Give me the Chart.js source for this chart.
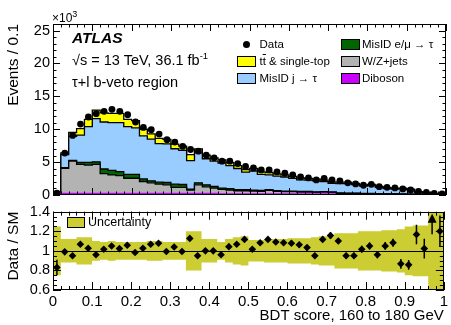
<!DOCTYPE html>
<html>
<head>
<meta charset="utf-8">
<script src="https://cdn.jsdelivr.net/npm/chart.js@4.4.1/dist/chart.umd.min.js"></script>
<style>
  html, body { margin: 0; padding: 0; background: #fff; }
  #wrap { position: relative; width: 451px; height: 325px; overflow: hidden; font-family: "Liberation Sans", Arial, sans-serif; color: #000; }
  canvas { position: absolute; left: 0; }
  #mainCanvas { top: 0; }
  #ratioCanvas { top: 200px; }
  .txt { position: absolute; white-space: nowrap; line-height: 1; }
  .box { position: absolute; border: 1px solid #000; box-sizing: border-box; }
  .sup { position: relative; }
</style>
</head>
<body>
<div id="wrap">
  <canvas id="mainCanvas" width="451" height="210" style="width:451px;height:210px"></canvas>
  <canvas id="ratioCanvas" width="451" height="125" style="width:451px;height:125px"></canvas>

  <div class="txt" style="left:52px;top:11.5px;font-size:12px">×10<span class="sup" style="font-size:9px;top:-5px">3</span></div>
  <div class="txt" style="left:72px;top:30px;font-size:15.5px;font-weight:bold;font-style:italic">ATLAS</div>
  <div class="txt" style="left:72px;top:52.7px;font-size:14.5px">√s = 13 TeV, 36.1 fb<span class="sup" style="font-size:9.5px;top:-6px">-1</span></div>
  <div class="txt" style="left:72px;top:75px;font-size:14.5px">τ+l b-veto region</div>

  <div style="position:absolute;left:243px;top:40.5px;width:7px;height:7px;border-radius:50%;background:#000"></div>
  <div class="txt" style="left:259.5px;top:38.6px;font-size:11.5px">Data</div>
  <div class="box" style="left:237px;top:56px;width:19px;height:11px;background:#ffff00"></div>
  <div class="txt" style="left:259.5px;top:55.8px;font-size:11.5px">t<span style="text-decoration:overline">t</span> &amp; single-top</div>
  <div class="box" style="left:237px;top:73px;width:19px;height:11px;background:#99ccff"></div>
  <div class="txt" style="left:259.5px;top:72.8px;font-size:11.5px">MisID j → τ</div>

  <div class="box" style="left:341px;top:39px;width:19px;height:11px;background:#006600"></div>
  <div class="txt" style="left:362px;top:38.6px;font-size:11.5px">MisID e/μ → τ</div>
  <div class="box" style="left:341px;top:56px;width:19px;height:11px;background:#b3b3b3"></div>
  <div class="txt" style="left:362px;top:55.8px;font-size:11.5px">W/Z+jets</div>
  <div class="box" style="left:341px;top:73px;width:19px;height:11px;background:#cc00ff"></div>
  <div class="txt" style="left:362px;top:72.8px;font-size:11.5px">Diboson</div>

  <div class="box" style="left:67px;top:217px;width:18px;height:11px;background:#cccc33"></div>
  <div class="txt" style="left:88px;top:216px;font-size:12.5px">Uncertainty</div>
</div>

<script>
// 50 bins of width 0.02 in BDT score
const nBins = 50;
const binLow = Array.from({ length: nBins }, (_, i) => +(i * 0.02).toFixed(2));
const binCenter = binLow.map(v => +(v + 0.01).toFixed(2));

// events in units of 10^3
const dataEvents = [0.3, 6.37, 9.06, 10.79, 11.86, 12.37, 12.72, 13.03, 12.72, 12.2,
  11.1, 10.28, 9.92, 9.26, 8.4, 8.04, 7.38, 6.92, 6.67, 6.06,
  5.65, 5.14, 5.14, 4.78, 4.33, 4.12, 3.82, 3.82, 3.51, 3.31,
  3.05, 2.75, 2.6, 2.29, 2.54, 2.29, 2.16, 1.85, 1.68, 1.48,
  1.63, 1.27, 1.17, 1.07, 0.92, 0.76, 0.56, 0.41, 0.26, 0.15];

const diboson = [0.03, 0.25, 0.25, 0.25, 0.25, 0.25, 0.25, 0.25, 0.25, 0.25,
  0.25, 0.25, 0.25, 0.25, 0.25, 0.25, 0.25, 0.25, 0.25, 0.25,
  0.25, 0.15, 0.15, 0.15, 0.15, 0.15, 0.15, 0.15, 0.15, 0.15,
  0.15, 0.15, 0.15, 0.15, 0.15, 0.15, 0.05, 0.05, 0.05, 0.05,
  0.05, 0.05, 0.05, 0.05, 0.05, 0.05, 0.05, 0.05, 0.05, 0.05];

const wzJets = [0.15, 3.8, 4.9, 4.4, 4.3, 4.4, 3.0, 2.8, 2.7, 2.3,
  2.3, 1.8, 1.6, 1.4, 1.3, 0.9, 0.9, 0.5, 1.3, 1.0,
  0.8, 0.7, 0.6, 0.5, 0.5, 0.45, 0.4, 0.55, 0.4, 0.35,
  0.35, 0.3, 0.3, 0.25, 0.3, 0.25, 0.2, 0.2, 0.18, 0.15,
  0.15, 0.12, 0.1, 0.1, 0.08, 0.07, 0.05, 0.04, 0.03, 0.02];

const misIdLep = [0.03, 0.1, 0.1, 0.3, 0.4, 0.4, 0.7, 0.7, 0.6, 0.6,
  0.6, 0.4, 0.3, 0.3, 0.35, 0.5, 0.45, 0.15, 0.3, 0.3,
  0.25, 0.2, 0.2, 0.18, 0.15, 0.15, 0.14, 0.12, 0.12, 0.1,
  0.1, 0.09, 0.08, 0.08, 0.07, 0.06, 0.06, 0.05, 0.05, 0.04,
  0.04, 0.03, 0.03, 0.03, 0.02, 0.02, 0.02, 0.01, 0.01, 0.01];

const misIdJet = [0.13, 2.0, 3.65, 4.15, 5.45, 6.55, 7.15, 7.25, 7.45, 7.25,
  7.05, 6.55, 6.35, 5.85, 5.86, 5.38, 5.18, 4.34, 4.55, 3.96,
  3.85, 3.8, 3.53, 3.2, 2.68, 2.9, 2.46, 2.24, 2.21, 2.14,
  1.93, 1.77, 1.73, 1.68, 1.51, 1.3, 1.44, 1.45, 1.31, 1.1,
  1.2, 0.98, 0.81, 0.71, 0.81, 0.66, 0.3, 0.25, 0.06, 0.04];

const ttbar = [0.02, 0.25, 0.6, 1.0, 1.1, 1.3, 1.4, 1.4, 1.4, 1.1,
  1.1, 1.0, 0.8, 0.8, 0.7, 0.7, 0.65, 0.9, 0.6, 0.55,
  0.5, 0.5, 0.45, 0.45, 0.4, 0.4, 0.38, 0.36, 0.34, 0.32,
  0.3, 0.28, 0.26, 0.25, 0.24, 0.22, 0.2, 0.2, 0.18, 0.16,
  0.16, 0.14, 0.12, 0.1, 0.1, 0.09, 0.06, 0.05, 0.03, 0.02];

// Data / SM
const ratio = [0.83, 0.99, 0.95, 1.067, 1.027, 0.96, 1.017, 1.05, 1.023, 1.057,
  0.983, 1.027, 1.067, 1.077, 0.993, 1.04, 0.993, 1.127, 0.95, 1.0,
  1.0, 0.96, 1.043, 1.067, 1.117, 1.017, 1.083, 1.117, 1.09, 1.083,
  1.077, 1.063, 1.033, 0.95, 1.117, 1.157, 1.1, 0.95, 0.95, 1.017,
  1.05, 0.96, 1.05, 1.083, 0.867, 0.857, 1.167, 1.023, 1.6, 1.2];

const ratioErr = [0.08, 0.025, 0.02, 0.02, 0.02, 0.02, 0.02, 0.02, 0.02, 0.02,
  0.02, 0.02, 0.02, 0.02, 0.02, 0.02, 0.02, 0.02, 0.02, 0.02,
  0.02, 0.02, 0.02, 0.02, 0.025, 0.025, 0.025, 0.025, 0.025, 0.025,
  0.025, 0.025, 0.025, 0.025, 0.03, 0.035, 0.03, 0.03, 0.03, 0.035,
  0.035, 0.035, 0.04, 0.04, 0.05, 0.05, 0.1, 0.1, 0.43, 0.16];

// half width of the uncertainty band
const uncBand = [0.25, 0.12, 0.12, 0.14, 0.14, 0.10, 0.09, 0.10, 0.09, 0.09,
  0.09, 0.09, 0.10, 0.10, 0.09, 0.09, 0.09, 0.20, 0.20, 0.12,
  0.12, 0.09, 0.12, 0.14, 0.15, 0.11, 0.11, 0.12, 0.12, 0.12,
  0.13, 0.13, 0.13, 0.14, 0.15, 0.15, 0.18, 0.18, 0.18, 0.2,
  0.2, 0.2, 0.21, 0.21, 0.22, 0.25, 0.26, 0.26, 0.4, 0.4];

const FONT = "'Liberation Sans', Arial, sans-serif";
Chart.defaults.font.family = FONT;
Chart.defaults.color = '#000';

// histogram outline for stepped:'after' - each point's value spans back to the previous point
function histPoints(vals) {
  const pts = [{ x: 0, y: vals[0] }];
  vals.forEach((v, i) => pts.push({ x: +(binLow[i] + 0.02).toFixed(2), y: v }));
  return pts;
}

const plainNumber = v => String(Number(v.toFixed(2)));

// frame with inward ticks on all four sides, ROOT style
const rootAxes = {
  id: 'rootAxes',
  afterDraw(chart, args, opts) {
    const { ctx, chartArea: a, scales } = chart;
    const xs = scales.x, ys = scales.y;
    ctx.save();
    ctx.strokeStyle = '#000';
    ctx.lineWidth = 1;
    ctx.beginPath();
    const marks = (scale, step, len, vertical) => {
      const n = Math.round((scale.max - scale.min) / step);
      for (let k = 0; k <= n; k++) {
        const p = Math.round(scale.getPixelForValue(scale.min + k * step)) + 0.5;
        if (vertical) {
          ctx.moveTo(a.left, p); ctx.lineTo(a.left + len, p);
          ctx.moveTo(a.right, p); ctx.lineTo(a.right - len, p);
        } else {
          ctx.moveTo(p, a.bottom); ctx.lineTo(p, a.bottom - len);
          ctx.moveTo(p, a.top); ctx.lineTo(p, a.top + len);
        }
      }
    };
    marks(xs, opts.xMinor, opts.minorLen, false);
    marks(xs, opts.xMajor, opts.xMajorLen, false);
    marks(ys, opts.yMinor, opts.minorLen, true);
    marks(ys, opts.yMajor, opts.yMajorLen, true);
    ctx.stroke();
    ctx.strokeRect(Math.round(a.left) + 0.5, Math.round(a.top) + 0.5,
      Math.round(a.width) - 1, Math.round(a.height) - 1);
    ctx.restore();
  }
};

// error bars, reference line and off-scale arrows for the ratio panel
const ratioExtras = {
  id: 'ratioExtras',
  afterDatasetsDraw(chart) {
    const { ctx, chartArea: a, scales: { x, y } } = chart;
    ctx.save();
    ctx.beginPath();
    ctx.rect(a.left, a.top, a.width, a.height);
    ctx.clip();
    ctx.strokeStyle = '#000';
    ctx.fillStyle = '#000';
    ctx.lineWidth = 1;
    const y1 = Math.round(y.getPixelForValue(1)) + 0.5;
    ctx.beginPath();
    ctx.moveTo(a.left, y1); ctx.lineTo(a.right, y1);
    ctx.stroke();
    ctx.lineWidth = 1.5;
    ratio.forEach((r, i) => {
      const px = x.getPixelForValue(binCenter[i]);
      const lo = y.getPixelForValue(r - ratioErr[i]);
      if (r > y.max) {
        const tipY = a.top + 2;
        ctx.beginPath();
        ctx.moveTo(px, lo); ctx.lineTo(px, tipY + 6);
        ctx.stroke();
        ctx.beginPath();
        ctx.moveTo(px, tipY); ctx.lineTo(px - 4.5, tipY + 9); ctx.lineTo(px + 4.5, tipY + 9);
        ctx.closePath();
        ctx.fill();
      } else {
        const hi = y.getPixelForValue(r + ratioErr[i]);
        ctx.beginPath();
        ctx.moveTo(px, lo); ctx.lineTo(px, hi);
        ctx.stroke();
      }
    });
    ctx.restore();
  }
};

const mcSamples = [
  { label: 'Diboson', vals: diboson, color: '#cc00ff', line: '#cc00ff' },
  { label: 'W/Z+jets', vals: wzJets, color: '#b3b3b3', line: '#000' },
  { label: 'MisID e/μ → τ', vals: misIdLep, color: '#006600', line: '#000' },
  { label: 'MisID j → τ', vals: misIdJet, color: '#99ccff', line: '#000' },
  { label: 'tt̄ & single-top', vals: ttbar, color: '#ffff00', line: '#000' }
];

const mainDatasets = [{
  label: 'Data',
  data: dataEvents.map((v, i) => ({ x: binCenter[i], y: v })),
  stack: 'data',
  showLine: false,
  pointRadius: 3.4,
  pointBackgroundColor: '#000',
  pointBorderWidth: 0
}];
mcSamples.forEach((s, i) => {
  mainDatasets.push({
    label: s.label,
    data: histPoints(s.vals),
    stack: 'mc',
    stepped: 'after',
    fill: i === 0 ? 'origin' : '-1',
    backgroundColor: s.color,
    borderColor: s.line,
    borderWidth: 1.3,
    pointRadius: 0
  });
});

new Chart(document.getElementById('mainCanvas'), {
  type: 'line',
  data: { datasets: mainDatasets },
  options: {
    responsive: false,
    animation: false,
    events: [],
    layout: { padding: { left: 0, right: 5, top: 24, bottom: 15 } },
    plugins: {
      legend: { display: false },
      tooltip: { enabled: false },
      rootAxes: { xMinor: 0.02, xMajor: 0.1, yMinor: 1, yMajor: 5, minorLen: 3.5, xMajorLen: 7, yMajorLen: 7 }
    },
    scales: {
      x: { type: 'linear', min: 0, max: 1, display: false },
      y: {
        stacked: true,
        min: 0,
        max: 26,
        border: { display: false },
        grid: { display: false, drawTicks: false },
        ticks: { stepSize: 5, includeBounds: false, autoSkip: false, padding: 3, font: { size: 14.5 } },
        title: { display: true, text: 'Events / 0.1', align: 'end', font: { size: 15.5 }, padding: { top: 4, bottom: 0 } },
        afterFit(scale) { scale.width = 53; }
      }
    }
  },
  plugins: [rootAxes]
});

new Chart(document.getElementById('ratioCanvas'), {
  type: 'line',
  data: {
    datasets: [{
      label: 'Data / SM',
      data: ratio.map((v, i) => ({ x: binCenter[i], y: v })),
      showLine: false,
      pointStyle: 'rectRot',
      pointRadius: 3.8,
      pointBackgroundColor: '#000',
      pointBorderWidth: 0
    }, {
      label: 'band low',
      data: histPoints(uncBand.map(u => 1 - u)),
      stepped: 'after',
      borderWidth: 0,
      borderColor: 'transparent',
      pointRadius: 0,
      fill: false
    }, {
      label: 'Uncertainty',
      data: histPoints(uncBand.map(u => 1 + u)),
      stepped: 'after',
      borderWidth: 0,
      borderColor: 'transparent',
      backgroundColor: '#cccc33',
      pointRadius: 0,
      fill: '-1'
    }]
  },
  options: {
    responsive: false,
    animation: false,
    events: [],
    layout: { padding: { left: 0, right: 5, top: 10, bottom: 0 } },
    plugins: {
      legend: { display: false },
      tooltip: { enabled: false },
      rootAxes: { xMinor: 0.02, xMajor: 0.1, yMinor: 0.05, yMajor: 0.2, minorLen: 4, xMajorLen: 8, yMajorLen: 8 }
    },
    scales: {
      x: {
        type: 'linear', min: 0, max: 1,
        border: { display: false },
        grid: { display: false, drawTicks: false },
        ticks: { stepSize: 0.1, autoSkip: false, maxRotation: 0, padding: 3, font: { size: 15 }, callback: plainNumber },
        title: { display: true, text: 'BDT score, 160 to 180 GeV', align: 'end', font: { size: 15 }, padding: { top: 0, bottom: 0 } },
        afterFit(scale) { scale.height = 35; }
      },
      y: {
        min: 0.6,
        max: 1.4,
        border: { display: false },
        grid: { display: false, drawTicks: false },
        ticks: { stepSize: 0.2, includeBounds: false, autoSkip: false, padding: 3, font: { size: 14.5 }, callback: plainNumber },
        title: { display: true, text: 'Data / SM', align: 'end', font: { size: 15.5 }, padding: { top: 4, bottom: 0 } },
        afterFit(scale) { scale.width = 53; }
      }
    }
  },
  plugins: [rootAxes, ratioExtras]
});
</script>
</body>
</html>
